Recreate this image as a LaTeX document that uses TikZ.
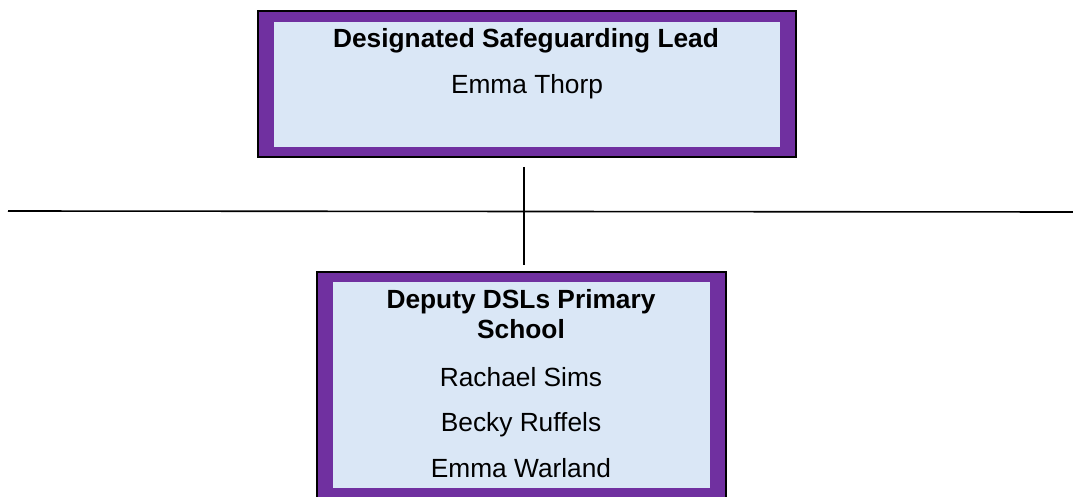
\documentclass[tikz,border=0pt]{standalone}
\usepackage{fontspec}
\setmainfont{Liberation Sans}
\definecolor{boxpurple}{HTML}{7030A0}
\definecolor{boxfill}{HTML}{DAE7F6}
\begin{document}
\begin{tikzpicture}[x=1pt,y=-1pt,
  outerbox/.style={draw=black,line width=1.2pt,fill=boxpurple},
  innerbox/.style={fill=boxfill},
  label/.style={font=\fontsize{26.3}{30}\selectfont,anchor=base,inner sep=0pt},
  title/.style={label,font=\fontsize{26.3}{30}\selectfont\bfseries},
  conn/.style={draw=black,line width=1.3pt}]
\useasboundingbox (0,0) rectangle (1073,497);
\begin{scope}
\clip (0,0) rectangle (1073,497);
% top box
\filldraw[outerbox] (258,11) rectangle (796,157);
\fill[innerbox] (274,22) rectangle (780,147);
\node[title] (t1) at (526,48) {Designated Safeguarding Lead};
\node[label] (t2) at (527,94) {Emma Thorp};
% bottom box
\filldraw[outerbox] (317,272) rectangle (726,505);
\fill[innerbox] (333,282) rectangle (710,488);
\node[title] (b1) at (521,308) {Deputy DSLs Primary};
\node[title] (b2) at (521,338) {School};
\node[label] (b3) at (521,386) {Rachael Sims};
\node[label] (b4) at (521,431) {Becky Ruffels};
\node[label] (b5) at (521,477) {Emma Warland};
\coordinate (bt) at (524,265);
\coordinate (tt) at (524,167);
\coordinate (hl) at (8,211);
\coordinate (hr) at (1073,212);
\draw[conn] (tt) -- (bt);
\draw[conn,line width=1.6pt] (hl) -- (hr);
\end{scope}
\end{tikzpicture}
\end{document}
